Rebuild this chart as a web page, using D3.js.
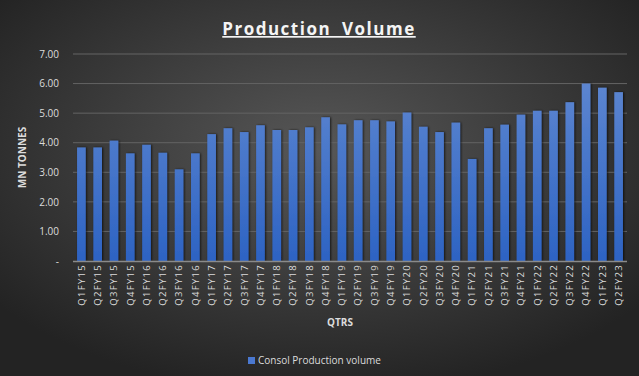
<!DOCTYPE html>
<meta charset="utf-8">
<script src="https://cdn.jsdelivr.net/npm/d3@7"></script>
<style>
body { margin: 0; background: #2a2a2a; }
text { font-family: "Open Sans", "Noto Sans", sans-serif; }
</style>
<body>
<script>
var quarters = ["Q1FY15","Q2FY15","Q3FY15","Q4FY15","Q1FY16","Q2FY16","Q3FY16","Q4FY16",
  "Q1FY17","Q2FY17","Q3FY17","Q4FY17","Q1FY18","Q2FY18","Q3FY18","Q4FY18",
  "Q1FY19","Q2FY19","Q3FY19","Q4FY19","Q1FY20","Q2FY20","Q3FY20","Q4FY20",
  "Q1FY21","Q2FY21","Q3FY21","Q4FY21","Q1FY22","Q2FY22","Q3FY22","Q4FY22",
  "Q1FY23","Q2FY23"]
var volume = [3.84,3.84,4.07,3.64,3.93,3.66,3.10,3.64,
  4.29,4.49,4.36,4.59,4.43,4.43,4.52,4.86,
  4.62,4.76,4.76,4.72,5.02,4.54,4.36,4.68,
  3.45,4.49,4.61,4.95,5.08,5.08,5.37,6.00,
  5.86,5.71]
var yTicks = [0,1,2,3,4,5,6,7]
var seriesName = "Consol Production volume"

var W = 639, H = 376
var m = {top: 54, right: 12, bottom: 115, left: 73}
var w = W - m.left - m.right, h = H - m.top - m.bottom

var svg = d3.select("body").append("svg").attr("width", W).attr("height", H)
var defs = svg.append("defs")

var bg = defs.append("radialGradient").attr("id", "bg")
  .attr("cx", "50%").attr("cy", "40%").attr("r", "65%")
bg.append("stop").attr("offset", "0%").attr("stop-color", "#575757")
bg.append("stop").attr("offset", "100%").attr("stop-color", "#232323")

var barGrad = defs.append("linearGradient").attr("id", "barGrad")
  .attr("gradientUnits", "userSpaceOnUse")
  .attr("x1", 0).attr("y1", 0).attr("x2", 0).attr("y2", h)
barGrad.append("stop").attr("offset", "0%").attr("stop-color", "#648bd2")
barGrad.append("stop").attr("offset", "100%").attr("stop-color", "#2d63c3")

var shadow = defs.append("filter").attr("id", "shadow")
  .attr("x", "-30%").attr("y", "-10%").attr("width", "160%").attr("height", "120%")
shadow.append("feDropShadow").attr("dx", 1).attr("dy", 0).attr("stdDeviation", 0.8)
  .attr("flood-color", "#000").attr("flood-opacity", 0.7)

svg.append("rect").attr("width", W).attr("height", H).attr("fill", "url(#bg)")

// title
svg.append("text").attr("x", 319).attr("y", 35).attr("text-anchor", "middle")
  .attr("fill", "#f4f4f4").attr("font-size", 17).attr("font-weight", "bold")
  .attr("letter-spacing", 1.5).attr("text-decoration", "underline")
  .style("word-spacing", "5px")
  .text("Production Volume")

var g = svg.append("g").attr("transform", "translate(" + m.left + "," + m.top + ")")

var x = d3.scaleBand().domain(quarters).range([0, w]).paddingInner(0.47).paddingOuter(0.25)
var y = d3.scaleLinear().domain([0, 7]).range([h, 0])

// gridlines
g.append("g").selectAll("line").data(yTicks.filter(d => d > 0)).enter().append("line")
  .attr("x1", 0).attr("x2", w).attr("y1", d => y(d)).attr("y2", d => y(d))
  .attr("stroke", "#646464").attr("stroke-width", 1)

var yAxis = g.append("g").call(d3.axisLeft(y).tickValues(yTicks).tickSize(0).tickPadding(14)
  .tickFormat(d => d == 0 ? "-" : d.toFixed(2)))
yAxis.select(".domain").remove()
yAxis.selectAll("text").attr("fill", "#dcdcdc").attr("font-size", 10)

// bars
g.append("g").selectAll("rect").data(volume).enter().append("rect")
  .attr("x", (d, i) => x(quarters[i]))
  .attr("y", d => y(d))
  .attr("width", x.bandwidth())
  .attr("height", d => h - y(d))
  .attr("fill", "url(#barGrad)")
  .attr("filter", "url(#shadow)")

// x axis
var xAxis = g.append("g").attr("transform", "translate(0," + h + ")")
  .call(d3.axisBottom(x).tickSize(0).tickPadding(4))
xAxis.select(".domain").attr("stroke", "#8a8a8a").attr("stroke-width", 1.5)
  .attr("d", "M0,0.5H" + w)
xAxis.selectAll("text").attr("fill", "#dcdcdc").attr("font-size", 9.5)
  .attr("letter-spacing", 1.3)
  .attr("text-anchor", "end").attr("dy", "0.35em")
  .attr("transform", "translate(0,3) rotate(-90)")
  .attr("x", 0).attr("y", 0)

// axis titles
svg.append("text").attr("x", 340).attr("y", 326).attr("text-anchor", "middle")
  .attr("fill", "#dcdcdc").attr("font-size", 10).attr("font-weight", "bold").text("QTRS")
svg.append("text").attr("transform", "translate(26," + (m.top + h / 2) + ") rotate(-90)")
  .attr("text-anchor", "middle").attr("fill", "#dcdcdc").attr("font-size", 10)
  .attr("font-weight", "bold").text("MN TONNES")

// legend
var lg = svg.append("g").attr("transform", "translate(248,357)")
lg.append("rect").attr("width", 7).attr("height", 7).attr("fill", "#4a78d0")
lg.append("text").attr("x", 10).attr("y", 3.5).attr("dy", "0.35em")
  .attr("fill", "#dcdcdc").attr("font-size", 10).text(seriesName)
</script>
</body>
